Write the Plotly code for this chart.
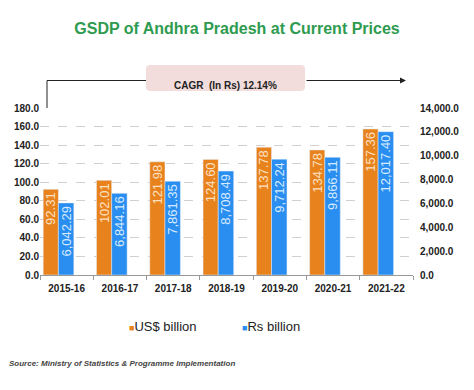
import plotly.graph_objects as go

years = ["2015-16", "2016-17", "2017-18", "2018-19", "2019-20", "2020-21", "2021-22"]
usd_billion = [92.31, 102.01, 121.98, 124.60, 137.78, 134.78, 157.36]
rs_billion = [6042.29, 6844.16, 7861.35, 8708.49, 9712.24, 9866.11, 12017.40]
left_ticks = [0, 20, 40, 60, 80, 100, 120, 140, 160, 180]
right_ticks = [0, 2000, 4000, 6000, 8000, 10000, 12000, 14000]
series_names = ["US$ billion", "Rs billion"]

ORANGE = "#e8821c"
BLUE = "#2a8ef0"
FONT = "Liberation Sans, Arial, sans-serif"

fig = go.Figure()
fig.add_trace(go.Bar(
    x=years, y=usd_billion, name=series_names[0], marker_color=ORANGE,
    offset=-0.44, width=0.285,
    text=[f"{v:.2f}" for v in usd_billion], textposition="inside",
    textangle=-90, insidetextanchor="end",
    insidetextfont=dict(color="#fde0c2", size=13, family=FONT),
    yaxis="y", showlegend=False,
))
fig.add_trace(go.Bar(
    x=years, y=rs_billion, name=series_names[1], marker_color=BLUE,
    offset=-0.155, width=0.29,
    text=[f"{v:,.2f}" for v in rs_billion], textposition="inside",
    textangle=-90, insidetextanchor="end",
    insidetextfont=dict(color="#d6ebff", size=13, family=FONT),
    yaxis="y2", showlegend=False,
))

W = 373.0
H = 167.0


def px(x):
    return (x - 40) / W


def py(y):
    return (275 - y) / H


# rounded rectangle path for the CAGR box
bx0, bx1, by0, by1, r = px(146), px(305), py(91), py(65), 4
rx, ry = r / W, r / H
box_path = (
    f"M {bx0+rx},{by0} L {bx1-rx},{by0} Q {bx1},{by0} {bx1},{by0+ry} "
    f"L {bx1},{by1-ry} Q {bx1},{by1} {bx1-rx},{by1} "
    f"L {bx0+rx},{by1} Q {bx0},{by1} {bx0},{by1-ry} "
    f"L {bx0},{by0+ry} Q {bx0},{by0} {bx0+rx},{by0} Z"
)

fig.update_layout(
    width=474, height=390,
    margin=dict(l=40, r=61, t=108, b=115),
    paper_bgcolor="white", plot_bgcolor="white",
    font=dict(family=FONT, color="#222222"),
    barmode="overlay",
    uniformtext=dict(minsize=13, mode="show"),
    showlegend=False,
    title=dict(text="<b>GSDP of Andhra Pradesh at Current Prices</b>",
               x=0.5, xanchor="center", y=0.927, yanchor="middle",
               font=dict(size=16, color="#2e9b50", family=FONT)),
    xaxis=dict(type="category", tickson="boundaries", ticks="outside",
               ticklen=4, tickcolor="#999999", showline=True, linecolor="#999999",
               tickfont=dict(size=10, family=FONT, color="#222222"),
               tickprefix="<b>", ticksuffix="</b>", showgrid=False,
               ticklabelstandoff=4),
    yaxis=dict(range=[0, 180], tickvals=left_ticks,
               ticktext=[f"<b>{v:.1f}</b>" for v in left_ticks],
               tickfont=dict(size=10, family=FONT, color="#222222"),
               showgrid=True, gridcolor="#d0d0d0", griddash="dash",
               zeroline=False, showline=False, ticks=""),
    yaxis2=dict(range=[0, 14000], tickvals=right_ticks,
                ticktext=[f"<b>{v:,.1f}</b>" for v in right_ticks],
                tickfont=dict(size=10, family=FONT, color="#222222"),
                overlaying="y", side="right", showgrid=False,
                zeroline=False, showline=False, ticks="", ticklabelstandoff=6),
    shapes=[
        dict(type="line", xref="paper", yref="paper", x0=px(47), x1=px(47),
             y0=1.0, y1=py(80.5), line=dict(color="#222222", width=1)),
        dict(type="line", xref="paper", yref="paper", x0=px(47), x1=px(146),
             y0=py(80.5), y1=py(80.5), line=dict(color="#222222", width=1)),
        dict(type="path", xref="paper", yref="paper", path=box_path,
             fillcolor="#f2dcdc", line=dict(width=0), layer="above"),
    ],
    annotations=[
        dict(xref="x domain", yref="y domain", x=px(406), y=py(80.5),
             ax=px(305), ay=py(80.5), axref="x domain", ayref="y domain",
             showarrow=True, arrowhead=2, arrowsize=1.2, arrowwidth=1,
             arrowcolor="#222222", text=""),
        dict(xref="paper", yref="paper", x=px(225.5), y=py(78),
             text="<b>CAGR  (In Rs) 12.14%</b>", showarrow=False,
             font=dict(size=10, family=FONT, color="#222222")),
        dict(xref="paper", yref="paper", x=px(127), y=py(326),
             xanchor="left", yanchor="middle", showarrow=False,
             text=f"<span style='color:{ORANGE};font-size:9px'>■</span>{series_names[0]}",
             font=dict(size=13, family=FONT, color="#222222")),
        dict(xref="paper", yref="paper", x=px(240), y=py(326),
             xanchor="left", yanchor="middle", showarrow=False,
             text=f"<span style='color:{BLUE};font-size:9px'>■</span>{series_names[1]}",
             font=dict(size=13, family=FONT, color="#222222")),
        dict(xref="paper", yref="paper", x=px(7), y=py(363),
             xanchor="left", yanchor="middle", showarrow=False,
             text="<b><i>Source: Ministry of Statistics &amp; Programme Implementation</i></b>",
             font=dict(size=8, family=FONT, color="#444444")),
    ],
)

fig.write_html("out.html")
